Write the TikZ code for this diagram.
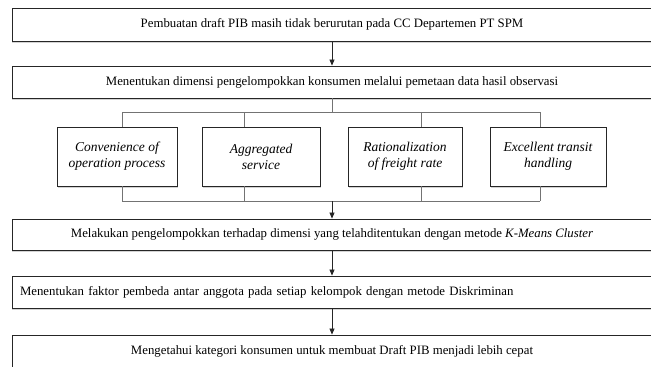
\documentclass[tikz,border=0pt]{standalone}
\usepackage{fontspec}
\setmainfont{LiberationSerif}[Extension=.ttf, UprightFont=*-Regular, ItalicFont=*-Italic, BoldFont=*-Bold, BoldItalicFont=*-BoldItalic]
\usepackage{tikz}
\usetikzlibrary{shapes,arrows,positioning,calc,shadows,arrows.meta}

\tikzset{
  mainbox/.style={draw=black!85, line width=0.9pt, fill=white, minimum width=640pt,
    drop shadow={shadow xshift=-0.5pt, shadow yshift=-2pt, opacity=0.35},
    font=\fontsize{12.8}{14}\selectfont},
  dimbox/.style={draw=black!85, line width=0.9pt, fill=white, minimum height=59pt, align=center,
    drop shadow={shadow xshift=0.5pt, shadow yshift=-2pt, opacity=0.35},
    font=\fontsize{13.5}{16}\selectfont\itshape},
  link/.style={draw=black!55, line width=0.7pt},
  flow/.style={draw=black!85, line width=0.7pt, -{Triangle[length=6pt,width=5pt]}}
}

\begin{document}
\begin{tikzpicture}[x=1pt,y=1pt]
    \useasboundingbox (0,0) rectangle (651,-367);
    % Main steps
    \node[mainbox, minimum height=33pt] (b1) at (332,-24.5) {Pembuatan draft PIB masih tidak berurutan pada CC Departemen PT SPM};
    \node[mainbox, minimum height=32pt] (b2) at (332,-82) {Menentukan dimensi pengelompokkan konsumen melalui pemetaan data hasil observasi};
    \node[mainbox, minimum height=31pt] (b3) at (332,-234.5) {Melakukan pengelompokkan terhadap dimensi yang telahditentukan dengan metode \textit{K-Means Cluster}};
    \node[mainbox, minimum height=32pt, text width=624pt, inner xsep=8pt, align=left] (b4) at (332,-292) {Menentukan faktor pembeda antar anggota pada setiap kelompok dengan metode Diskriminan};
    \node[mainbox, minimum height=32pt] (b5) at (332,-351) {Mengetahui kategori konsumen untuk membuat Draft PIB menjadi lebih cepat};
    % Dimensions
    \node[dimbox, minimum width=120pt] (ca) at (117,-156.5) {Convenience of\\operation process};
    \node[dimbox, minimum width=118pt] (cb) at (261,-156.5) {Aggregated\\service};
    \node[dimbox, minimum width=114pt] (cc) at (405,-156.5) {Rationalization\\of freight rate};
    \node[dimbox, minimum width=116pt] (cd) at (548,-156.5) {Excellent transit\\handling};
    % Connectors
    \draw[flow] (b1) -- (b2);
    \coordinate (split) at (332,-112);
    \coordinate (merge) at (332,-201);
    \draw[link] (b2) -- (split);
    \draw[link] (122,-112) -- (540,-112);
    \draw[link] (122,-201) -- (540,-201);
    \foreach \n/\x in {ca/122,cb/244,cc/421,cd/540} {
        \coordinate (t\n) at (\x,-112);
        \coordinate (u\n) at (\x,-201);
        \draw[link] (t\n) -- (t\n |- \n.north);
        \draw[link] (u\n |- \n.south) -- (u\n);
    }
    \draw[flow] (merge) -- (b3);
    \draw[flow] (b3) -- (b4);
    \draw[flow] (b4) -- (b5);
\end{tikzpicture}
\end{document}
